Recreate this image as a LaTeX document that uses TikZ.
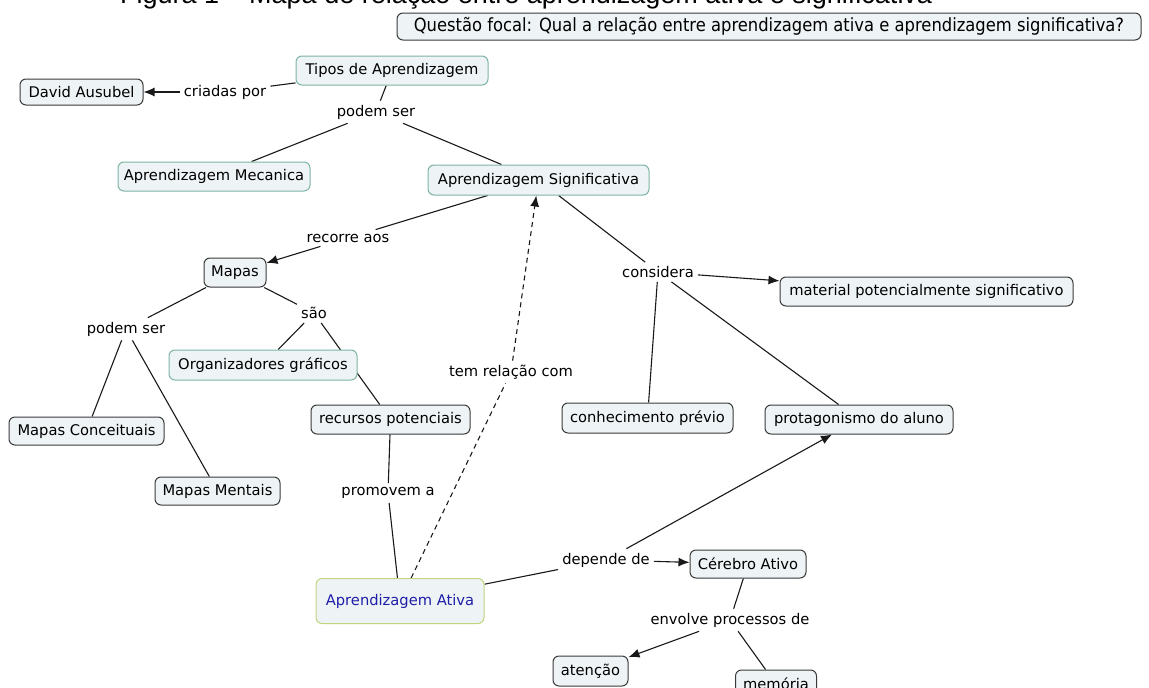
\documentclass[tikz,border=0pt]{standalone}
\usepackage{fontspec}
\setmainfont{DejaVu Sans}
\newfontfamily\focalfont{DejaVu Sans Condensed}
\newfontfamily\titlefont{Liberation Sans}
\usetikzlibrary{arrows.meta}
\pgfdeclarelayer{links}
\pgfsetlayers{links,main}

\definecolor{conceptfill}{HTML}{EEF3F5}
\definecolor{greenedge}{HTML}{7DB3A3}
\definecolor{darkedge}{HTML}{3A3A3A}
\definecolor{activeedge}{HTML}{C3D37E}
\definecolor{activetext}{HTML}{1E1EA8}

\newcommand{\mapsize}{\fontsize{14.7}{17}\selectfont}

\tikzset{
  concept/.style={draw=darkedge, fill=conceptfill, rounded corners=6pt,
    line width=1pt, minimum height=28pt, inner sep=0pt, font=\mapsize},
  greenconcept/.style={concept, draw=greenedge},
  phrase/.style={inner xsep=4pt, inner ysep=4pt, font=\mapsize},
  link/.style={line width=1.1pt, draw=black!90},
  arrowlink/.style={link, -{Latex[length=11pt,width=9pt]}},
  dashedlink/.style={link, dash pattern=on 5pt off 4pt}
}

\begin{document}
\begin{tikzpicture}[x=1pt,y=-1pt]
\useasboundingbox (0,0) rectangle (1149,688);
\clip (0,0) rectangle (1149,688);

% caption line above the map, running off the top edge
\node[font=\titlefont\fontsize{27}{30}\selectfont, anchor=base west, inner sep=0pt]
  (title) at (120,3.5) {Figura 1 – Mapa de relação entre aprendizagem ativa e significativa};

% focal question
\node[concept, minimum width=744pt, minimum height=27pt, font=\focalfont\fontsize{18.2}{20}\selectfont]
  (focal) at (769,26.5) {Questão focal: Qual a relação entre aprendizagem ativa e aprendizagem significativa?};

% concepts
\node[greenconcept, minimum width=192pt, minimum height=29pt] (tipos) at (392,70.5) {Tipos de Aprendizagem};
\node[concept, minimum width=123pt, minimum height=26pt] (david) at (81.5,92) {David Ausubel};
\node[greenconcept, minimum width=192pt, minimum height=29pt] (mecanica) at (214,176.5) {Aprendizagem Mecanica};
\node[greenconcept, minimum width=221pt, minimum height=30pt] (signif) at (538.5,180) {Aprendizagem Significativa};
\node[concept, minimum width=62pt, minimum height=29pt] (mapas) at (235,272.5) {Mapas};
\node[greenconcept, minimum width=188pt, minimum height=30pt] (organiz) at (263,365) {Organizadores gráficos};
\node[concept, minimum width=159pt, minimum height=29pt] (recursos) at (390.5,419.5) {recursos potenciais};
\node[concept, minimum width=155pt, minimum height=28pt] (conceit) at (86.5,431) {Mapas Conceituais};
\node[concept, minimum width=125pt, minimum height=28pt] (mentais) at (217.5,491) {Mapas Mentais};
\node[concept, minimum width=293pt, minimum height=29pt] (material) at (926.5,291.5) {material potencialmente significativo};
\node[concept, minimum width=171pt, minimum height=30pt] (previo) at (647.5,418) {conhecimento prévio};
\node[concept, minimum width=188pt, minimum height=29pt] (protag) at (859,419.5) {protagonismo do aluno};
\node[concept, draw=activeedge, text=activetext, minimum width=168pt, minimum height=45pt] (ativa) at (400,601) {Aprendizagem Ativa};
\node[concept, minimum width=116pt, minimum height=28pt] (cerebro) at (748,564) {Cérebro Ativo};
\node[concept, minimum width=75pt, minimum height=30pt] (atencao) at (590.5,671) {atenção};
\node[concept, minimum width=81pt, minimum height=28pt] (memoria) at (776,684) {memória};

% linking phrases
\node[phrase] (criadas) at (225,92) {criadas por};
\node[phrase] (podem) at (376,112) {podem ser};
\node[phrase] (recorre) at (348,238) {recorre aos};
\node[phrase] (podemb) at (126,329) {podem ser};
\node[phrase] (sao) at (314,313) {são};
\node[phrase] (promovem) at (388,493) {promovem a};
\node[phrase] (relacao) at (511,372) {tem relação com};
\node[phrase] (considera) at (658,272) {considera};
\node[phrase] (depende) at (606,560) {depende de};
\node[phrase] (envolve) at (730,620) {envolve processos de};

% connectors, kept beneath the boxes
\begin{pgfonlayer}{links}
\draw[link] (tipos) -- (criadas);
\draw[arrowlink] (criadas) -- (david);
\draw[link] (tipos) -- (podem);
\draw[link] (podem) -- (mecanica);
\draw[link] (podem) -- (signif);
\draw[link] (signif) -- (recorre);
\draw[arrowlink] (recorre) -- (mapas);
\draw[link] (mapas) -- (podemb);
\draw[link] (podemb) -- (conceit);
\draw[link] (podemb) -- (mentais);
\draw[link] (mapas) -- (sao);
\draw[link] (sao) -- (organiz);
\draw[link] (sao) -- (recursos);
\draw[link] (recursos) -- (promovem);
\draw[link] (promovem) -- (ativa);
\draw[dashedlink] (ativa) -- (relacao);
\draw[dashedlink, -{Latex[length=11pt,width=9pt]}] (relacao) -- (signif);
\draw[link] (signif) -- (considera);
\draw[arrowlink] (considera) -- (material);
\draw[link] (considera) -- (previo);
\draw[link] (considera) -- (protag);
\draw[link] (ativa) -- (depende);
\draw[arrowlink] (depende) -- (cerebro);
\draw[arrowlink] (depende) -- (protag);
\draw[link] (cerebro) -- (envolve);
\draw[arrowlink] (envolve) -- (atencao);
\draw[link] (envolve) -- (memoria);
\end{pgfonlayer}
\end{tikzpicture}
\end{document}
